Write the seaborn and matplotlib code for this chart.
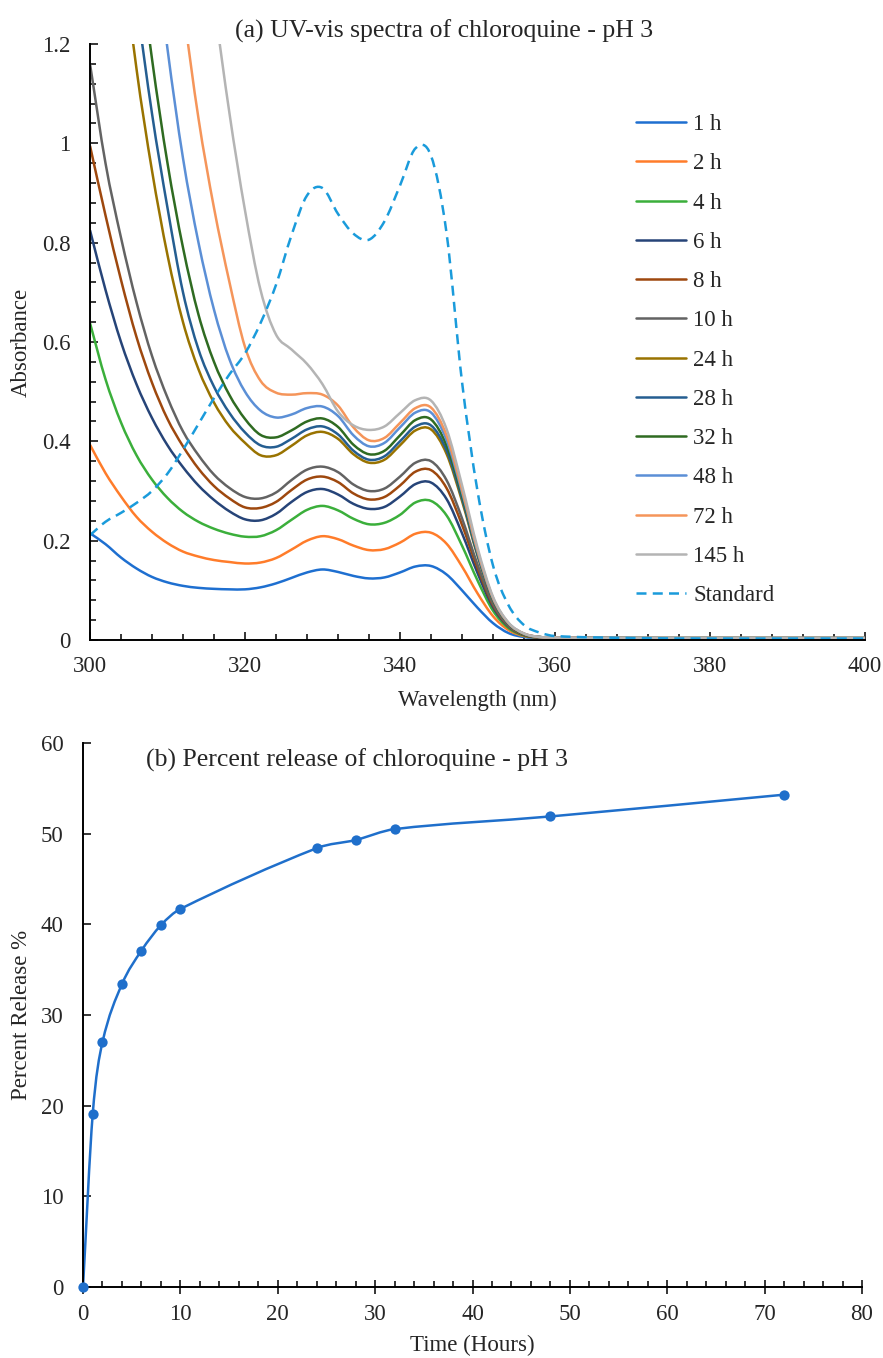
import numpy as np
import matplotlib
matplotlib.use('Agg')
import matplotlib.pyplot as plt
from matplotlib.path import Path
from matplotlib.patches import PathPatch
from matplotlib.lines import Line2D
from matplotlib.ticker import MultipleLocator, FuncFormatter
import seaborn as sns

# ---- data ----
wavelength = [300, 302, 304, 306, 308, 310, 312, 314, 316, 318,
              320, 322, 324, 326, 328, 330, 332, 334, 336, 338,
              340, 342, 344, 346, 348, 350, 352, 354, 356, 358,
              360, 370, 380, 390, 400]

abs_1h = [0.215, 0.193, 0.166, 0.144, 0.127, 0.116, 0.109, 0.105, 0.103, 0.102,
          0.102, 0.106, 0.114, 0.125, 0.136, 0.142, 0.137, 0.129, 0.124, 0.126,
          0.136, 0.148, 0.149, 0.132, 0.100, 0.065, 0.034, 0.014, 0.006, 0.004,
          0.004, 0.003, 0.003, 0.003, 0.003]
abs_2h = [0.393, 0.336, 0.289, 0.248, 0.218, 0.195, 0.178, 0.168, 0.161, 0.157,
          0.154, 0.156, 0.165, 0.182, 0.200, 0.209, 0.203, 0.190, 0.181, 0.183,
          0.196, 0.214, 0.216, 0.194, 0.148, 0.094, 0.048, 0.020, 0.008, 0.005,
          0.004, 0.003, 0.003, 0.003, 0.003]
abs_4h = [0.638, 0.525, 0.438, 0.372, 0.323, 0.286, 0.258, 0.238, 0.224, 0.214,
          0.208, 0.209, 0.221, 0.242, 0.262, 0.270, 0.261, 0.244, 0.233, 0.236,
          0.252, 0.277, 0.280, 0.251, 0.190, 0.120, 0.059, 0.024, 0.009, 0.005,
          0.004, 0.003, 0.003, 0.003, 0.003]
abs_6h = [0.825, 0.705, 0.600, 0.515, 0.447, 0.392, 0.348, 0.311, 0.282, 0.259,
          0.243, 0.241, 0.254, 0.278, 0.298, 0.304, 0.293, 0.274, 0.264, 0.268,
          0.289, 0.314, 0.317, 0.284, 0.215, 0.135, 0.066, 0.027, 0.010, 0.005,
          0.004, 0.003, 0.003, 0.003, 0.003]
abs_8h = [0.995, 0.855, 0.725, 0.610, 0.518, 0.445, 0.390, 0.345, 0.310, 0.285,
          0.267, 0.266, 0.278, 0.302, 0.323, 0.329, 0.318, 0.295, 0.283, 0.288,
          0.311, 0.339, 0.342, 0.306, 0.232, 0.145, 0.070, 0.028, 0.010, 0.005,
          0.004, 0.003, 0.003, 0.003, 0.003]
abs_10h = [1.160, 0.960, 0.810, 0.680, 0.572, 0.488, 0.420, 0.372, 0.333, 0.306,
           0.288, 0.285, 0.297, 0.322, 0.343, 0.349, 0.338, 0.313, 0.300, 0.305,
           0.329, 0.357, 0.360, 0.322, 0.245, 0.152, 0.073, 0.029, 0.011, 0.005,
           0.004, 0.003, 0.003, 0.003, 0.003]
abs_24h = [2.10, 1.72, 1.41, 1.15, 0.945, 0.775, 0.640, 0.545, 0.478, 0.430,
           0.397, 0.372, 0.372, 0.391, 0.412, 0.419, 0.405, 0.374, 0.357, 0.363,
           0.392, 0.422, 0.424, 0.375, 0.280, 0.170, 0.080, 0.032, 0.012, 0.006,
           0.005, 0.004, 0.004, 0.004, 0.004]
abs_28h = [2.35, 1.92, 1.57, 1.29, 1.06, 0.870, 0.700, 0.585, 0.510, 0.457,
           0.418, 0.392, 0.389, 0.405, 0.424, 0.430, 0.414, 0.381, 0.363, 0.370,
           0.400, 0.430, 0.432, 0.382, 0.285, 0.172, 0.081, 0.032, 0.012, 0.006,
           0.005, 0.004, 0.004, 0.004, 0.004]
abs_32h = [2.60, 2.10, 1.73, 1.42, 1.17, 0.960, 0.790, 0.655, 0.560, 0.493,
           0.445, 0.413, 0.408, 0.422, 0.440, 0.446, 0.429, 0.393, 0.374, 0.381,
           0.412, 0.443, 0.444, 0.392, 0.292, 0.176, 0.083, 0.033, 0.012, 0.006,
           0.005, 0.004, 0.004, 0.004, 0.004]
abs_48h = [3.10, 2.60, 2.15, 1.76, 1.45, 1.19, 0.970, 0.800, 0.665, 0.565,
           0.500, 0.462, 0.448, 0.454, 0.467, 0.470, 0.451, 0.412, 0.390, 0.397,
           0.428, 0.458, 0.458, 0.403, 0.298, 0.178, 0.084, 0.034, 0.013, 0.006,
           0.005, 0.004, 0.004, 0.004, 0.004]
abs_72h = [3.60, 3.10, 2.60, 2.20, 1.90, 1.56, 1.28, 1.05, 0.870, 0.720,
           0.590, 0.522, 0.498, 0.494, 0.497, 0.494, 0.472, 0.428, 0.402, 0.407,
           0.437, 0.467, 0.468, 0.412, 0.303, 0.181, 0.085, 0.034, 0.013, 0.006,
           0.005, 0.004, 0.004, 0.004, 0.004]
abs_145h = [4.20, 3.60, 3.10, 2.70, 2.30, 2.00, 1.90, 1.57, 1.29, 1.06,
            0.865, 0.705, 0.615, 0.585, 0.556, 0.515, 0.460, 0.432, 0.423, 0.430,
            0.457, 0.483, 0.482, 0.425, 0.312, 0.186, 0.087, 0.035, 0.013, 0.006,
            0.005, 0.004, 0.004, 0.004, 0.004]
abs_std = [0.211, 0.238, 0.256, 0.276, 0.300, 0.335, 0.383, 0.435, 0.487, 0.535,
           0.577, 0.638, 0.715, 0.815, 0.895, 0.910, 0.858, 0.818, 0.806, 0.843,
           0.915, 0.990, 0.975, 0.820, 0.520, 0.300, 0.150, 0.070, 0.030, 0.015,
           0.008, 0.004, 0.003, 0.003, 0.003]

series_labels = ['1 h', '2 h', '4 h', '6 h', '8 h', '10 h', '24 h', '28 h',
                 '32 h', '48 h', '72 h', '145 h', 'Standard']
series_values = [abs_1h, abs_2h, abs_4h, abs_6h, abs_8h, abs_10h, abs_24h,
                 abs_28h, abs_32h, abs_48h, abs_72h, abs_145h, abs_std]
series_colors = ['#1E6FD0', '#FF7C2A', '#3BAF3B', '#264478', '#9E480E', '#636363',
                 '#997300', '#255E91', '#2F6B21', '#5B8FD6', '#F5955A', '#B4B4B4',
                 '#1A9BDB']

hours = [0, 1, 2, 4, 6, 8, 10, 24, 28, 32, 48, 72]
release = [0, 19.1, 27.0, 33.4, 37.1, 39.9, 41.7, 48.4, 49.3, 50.5, 51.9, 54.3]


def smooth_path(x, y):
    """Smooth (Excel-like) cubic path through the given points"""
    x = np.asarray(x, float)
    y = np.asarray(y, float)
    m = np.empty(len(x))
    m[1:-1] = (y[2:] - y[:-2]) / (x[2:] - x[:-2])
    m[0] = (y[1] - y[0]) / (x[1] - x[0])
    m[-1] = (y[-1] - y[-2]) / (x[-1] - x[-2])
    verts = [(x[0], y[0])]
    codes = [Path.MOVETO]
    for i in range(len(x) - 1):
        h = x[i + 1] - x[i]
        verts += [(x[i] + h / 3, y[i] + m[i] * h / 3),
                  (x[i + 1] - h / 3, y[i + 1] - m[i + 1] * h / 3),
                  (x[i + 1], y[i + 1])]
        codes += [Path.CURVE4] * 3
    return Path(verts, codes)


sns.set_style('white')
plt.rcParams['font.family'] = ['Liberation Serif', 'DejaVu Serif']
plt.rcParams['font.size'] = 16.5

W, H = 883, 1358
fig = plt.figure(figsize=(W / 100, H / 100), dpi=100)
fig.patch.set_facecolor('white')

# ---- (a) UV-vis spectra ----
ax1 = fig.add_axes([90 / W, 1 - 640 / H, 775 / W, 596 / H])
handles = []
for lab, vals, col in zip(series_labels, series_values, series_colors):
    ls = (0, (4, 2.5)) if lab == 'Standard' else '-'
    patch = PathPatch(smooth_path(wavelength, vals), fill=False, edgecolor=col,
                      lw=1.8, linestyle=ls, capstyle='butt', joinstyle='round')
    ax1.add_patch(patch)
    handles.append(Line2D([0], [0], color=col, lw=1.8, linestyle=ls))

ax1.set_xlim(300, 400)
ax1.set_ylim(0, 1.2)
ax1.xaxis.set_major_locator(MultipleLocator(20))
ax1.xaxis.set_minor_locator(MultipleLocator(4))
ax1.yaxis.set_major_locator(MultipleLocator(0.2))
ax1.yaxis.set_minor_locator(MultipleLocator(0.04))
ax1.yaxis.set_major_formatter(FuncFormatter(lambda v, p: '{:g}'.format(round(v, 2))))
ax1.tick_params(which='both', direction='in', color='black', width=1.1,
                left=True, bottom=True, labelsize=16.5)
ax1.tick_params(which='major', length=6)
ax1.tick_params(which='minor', length=4.5)
ax1.tick_params(axis='y', which='major', pad=14)
ax1.tick_params(axis='x', which='major', pad=11.5)
ax1.set_xlabel('Wavelength (nm)', fontsize=16.5, labelpad=9)
ax1.set_ylabel('Absorbance', fontsize=16.5, labelpad=7)
sns.despine(ax=ax1)
for s in ['left', 'bottom']:
    ax1.spines[s].set_color('black')
    ax1.spines[s].set_linewidth(1.4)

ax1.legend(handles, series_labels, loc='upper left', frameon=False,
           bbox_to_anchor=(636 / W, 1 - 114 / H), bbox_transform=fig.transFigure,
           borderpad=0, borderaxespad=0, handlelength=2.2, handletextpad=0.3,
           labelspacing=0.795, fontsize=16.5)

fig.text(235 / W, 1 - 38 / H, '(a) UV-vis spectra of chloroquine - pH 3',
         ha='left', va='baseline', fontsize=18.5)

# ---- (b) Percent release ----
ax2 = fig.add_axes([83 / W, 1 - 1287 / H, 779 / W, 544 / H])
line_col = '#1F6FCB'
ax2.add_patch(PathPatch(smooth_path(hours, release), fill=False,
                        edgecolor=line_col, lw=1.8))
sns.scatterplot(x=hours, y=release, ax=ax2, color=line_col, s=55,
                edgecolor=line_col, linewidth=0, zorder=3, clip_on=False)

ax2.set_xlim(0, 80)
ax2.set_ylim(0, 60)
ax2.xaxis.set_major_locator(MultipleLocator(10))
ax2.xaxis.set_minor_locator(MultipleLocator(2))
ax2.yaxis.set_major_locator(MultipleLocator(10))
ax2.tick_params(which='both', color='black', width=1.1, left=True, bottom=True,
                labelsize=16.5)
ax2.tick_params(axis='x', which='major', direction='inout', length=10, pad=7)
ax2.tick_params(axis='x', which='minor', direction='in', length=4.5)
ax2.tick_params(axis='y', which='major', direction='in', length=6, pad=14)
ax2.set_xlabel('Time (Hours)', fontsize=16.5, labelpad=7)
ax2.set_ylabel('Percent Release %', fontsize=16.5, labelpad=6)
sns.despine(ax=ax2)
for s in ['left', 'bottom']:
    ax2.spines[s].set_color('black')
    ax2.spines[s].set_linewidth(1.4)

fig.text(146 / W, 1 - 767 / H, '(b) Percent release of chloroquine - pH 3',
         ha='left', va='baseline', fontsize=18.5)

fig.savefig('out.png', dpi=100, facecolor='white')
